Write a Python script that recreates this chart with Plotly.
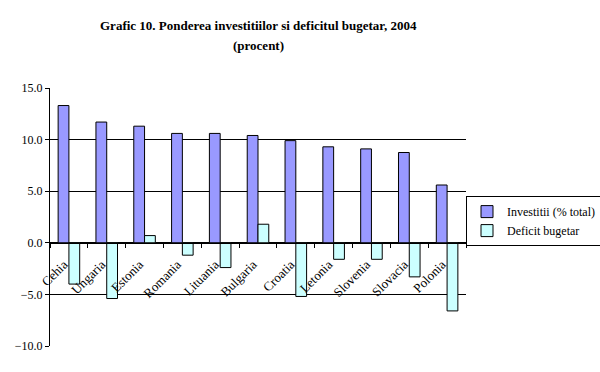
import plotly.graph_objects as go

countries = ["Cehia", "Ungaria", "Estonia", "Romania", "Lituania", "Bulgaria",
             "Croatia", "Letonia", "Slovenia", "Slovacia", "Polonia"]
investitii = [13.3, 11.7, 11.3, 10.6, 10.6, 10.4, 9.9, 9.3, 9.1, 8.75, 5.6]
deficit = [-4.0, -5.4, 0.7, -1.2, -2.4, 1.8, -5.2, -1.6, -1.6, -3.3, -6.6]

FONT = "Liberation Serif"

fig = go.Figure()
fig.add_trace(go.Bar(x=countries, y=investitii, name="Investitii (% total)",
                     marker=dict(color="#9999FF", line=dict(color="black", width=1))))
fig.add_trace(go.Bar(x=countries, y=deficit, name="Deficit bugetar",
                     marker=dict(color="#CCFFFF", line=dict(color="black", width=1))))

ymin, ymax = -10, 15
fig.update_layout(
    width=600, height=372,
    margin=dict(l=50, r=134, t=88, b=26, autoexpand=False),
    paper_bgcolor="white", plot_bgcolor="white",
    font=dict(family=FONT, size=12, color="black"),
    barmode="group", bargap=0.43, bargroupgap=0,
    showlegend=True,
    legend=dict(x=1.0, y=0.581, xanchor="left", yanchor="top",
                bordercolor="black", borderwidth=1, bgcolor="white",
                font=dict(family=FONT, size=12), tracegroupgap=0,
                itemwidth=30),
    xaxis=dict(anchor="free", position=(0 - ymin) / (ymax - ymin),
               showline=True, linecolor="black", linewidth=1,
               ticks="outside", tickson="boundaries", ticklen=4, tickcolor="black",
               tickangle=-45, showgrid=False, zeroline=False, automargin=False,
               ticklabelstandoff=8, ticklabelshift=-5,
               tickfont=dict(family=FONT, size=13)),
    yaxis=dict(range=[ymin, ymax], dtick=5, tickformat=".1f",
               showline=True, linecolor="black", linewidth=1,
               ticks="outside", ticklen=4, tickcolor="black",
               showgrid=True, gridcolor="black", gridwidth=1, automargin=False,
               zeroline=False, tickfont=dict(family=FONT, size=12)),
    annotations=[
        dict(text="<b>Grafic 10. Ponderea investitiilor si deficitul bugetar, 2004</b>",
             x=0.5, y=1, xref="paper", yref="paper", yshift=63, showarrow=False,
             font=dict(family=FONT, size=13), xanchor="center", yanchor="middle"),
        dict(text="<b>(procent)</b>",
             x=0.5, y=1, xref="paper", yref="paper", yshift=43, showarrow=False,
             font=dict(family=FONT, size=13), xanchor="center", yanchor="middle"),
    ],
)

fig.write_html("out.html", config={"displayModeBar": False},
               post_script="document.body.style.margin='0';")
